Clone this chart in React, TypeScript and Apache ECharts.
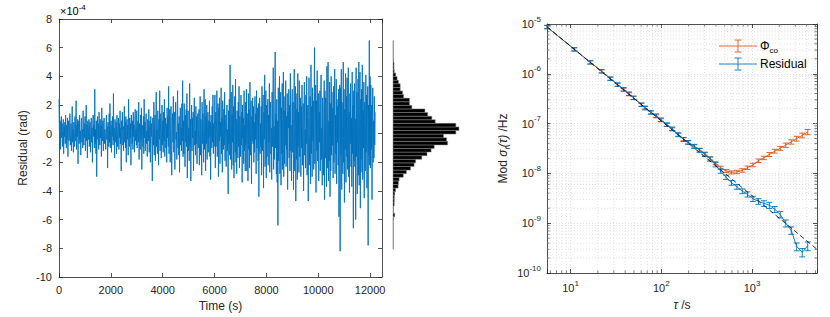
import React, { useEffect, useRef } from "react";
import * as echarts from "echarts";

// ---------- data ----------
const SAMPLE_STEP_S = 15; // seconds between residual samples
const residual = [
  2.4, 0.3, -0.6, 0.9, -1.1, 0.4, 1.2, -0.3, 0.7, -0.9, 0.1, 1.0, -1.4, 0.5, -0.2, 0.8, -0.7, 1.3, 0.2, -1.0, 0.6, -0.4, 1.1, -1.6, 0.3, 0.9, -0.5, 0.2, 1.4, -0.8, -0.1, 0.7, -1.2, 0.5, 1.9, -0.6, 0.3, -1.3, 0.8, 0.1,
  -0.9, 1.2, 0.4, -0.5, 2.3, -1.1, 0.6, -0.2, 1.0, -2.1, 0.5, 0.9, -0.7, 1.3, -0.4, 0.2, -1.5, 0.8, 1.1, -0.6, 0.3, -1.0, 1.6, 0.1, -0.8, 0.7, -0.3, 1.2, -1.2, 0.4, 2.0, -0.5, 0.6, -1.7, 0.9, 0.2, -0.4, 1.0, -0.9, 0.5,
  0.8, -1.3, 0.2, 1.1, -0.6, 0.4, -2.0, 0.9, 1.3, -0.2, 0.6, -1.0, 3.1, -0.7, 0.3, -1.4, 0.9, -3.0, 0.5, 1.2, -0.4, 0.7, -1.1, 1.5, 0.0, -0.8, 1.0, -0.3, 0.6, -1.6, 1.8, 0.2, -0.5, 0.9, -1.2, 0.4, 1.1, -0.7, 0.3, -0.1,
  -1.1, 0.7, 1.3, -0.4, 0.5, -2.4, 0.8, 0.2, -0.9, 1.4, -0.6, 2.1, -1.0, 0.3, 0.9, -1.3, 0.6, -0.2, 1.2, -0.8, 2.8, -0.5, 0.4, -1.7, 1.0, 0.1, -0.6, 0.8, -1.4, 1.3, 0.5, -0.9, 0.2, 1.1, -1.1, 0.7, -0.3, 1.6, -0.7, 0.4,
  -2.6, 0.9, 0.3, 1.5, -0.8, 0.5, -1.2, 0.2, 1.9, -0.6, 0.8, -1.0, 1.2, -2.0, 0.4, 1.0, -0.4, 0.6, -1.5, 2.4, 0.1, -0.9, 1.1, -0.3, 0.7, -2.2, 1.3, 0.4, -0.7, 0.9, -1.1, 1.5, -0.2, 0.6, -1.3, 0.8, 1.7, -0.5, 0.3, -0.8,
  1.6, -1.0, 0.5, 0.9, -0.6, 2.2, -1.8, 0.7, 0.2, -1.1, 1.3, -0.4, 1.8, -2.5, 0.6, 0.3, -0.9, 1.2, -1.4, 2.4, -0.3, 0.8, -1.2, 0.5, 1.4, -0.7, 0.2, -1.6, 1.0, 0.6, -0.5, 1.7, -1.3, 0.4, 0.9, -2.0, 1.2, -0.2, 0.7, -1.0,
  -3.3, 1.1, 0.4, -0.8, 2.2, -1.5, 0.7, 1.3, -1.9, 0.5, 2.9, -0.9, 0.3, -1.4, 1.6, 0.8, -2.2, 1.0, -0.4, 3.0, -1.2, 0.6, 1.4, -1.7, 0.2, 2.0, -0.8, 0.9, -1.3, 1.5, -0.5, 2.4, -1.6, 0.4, 1.1, -1.0, 0.7, -2.0, 1.8, -0.3,
  1.2, -0.9, 3.3, -1.4, 0.6, 1.7, -2.0, 0.3, 1.9, -1.1, -2.9, 0.8, 1.4, -0.6, 2.6, -1.3, 0.5, 1.5, -2.5, 0.9, 2.2, -0.4, 0.1, -1.8, 1.6, 3.0, -1.0, 0.7, -1.5, 1.2, -2.7, 0.6, 1.8, -0.8, 0.4, -1.2, 2.1, -0.5, 3.7, -1.6,
  0.9, -1.4, 2.1, 0.3, -2.3, 1.3, -0.6, 1.7, -0.9, 2.8, -3.1, 0.7, 1.6, -1.2, 0.4, -1.9, 3.5, -0.8, 1.0, -3.3, 0.5, 2.0, -1.2, 1.1, -0.3, 1.5, -2.6, 0.8, 2.5, -0.8, 0.2, -1.5, 1.9, -0.7, 1.2, -2.1, 0.6, 1.4, -1.0, 0.3,
  1.7, -2.2, 0.6, 2.6, -1.5, 1.0, -0.4, -2.9, 2.2, -0.7, 1.4, 0.3, -2.0, 3.1, -1.1, 0.6, 2.4, -2.6, 1.2, -0.7, 2.0, -1.8, 0.5, 1.5, -1.3, 0.9, -0.2, 2.3, -1.6, 0.8, -3.2, 1.3, 0.4, -1.0, 1.9, -0.6, 2.7, -1.4, 0.7, -0.9,
  0.9, 2.7, -2.4, 1.5, -0.9, 0.4, 3.0, -1.6, 0.4, 2.1, -3.0, 1.8, -0.5, 2.5, -2.1, 0.8, -0.2, 3.2, -1.4, 1.1, -2.7, 2.3, 0.6, -1.1, 1.7, -0.8, 2.9, -1.9, 0.5, 1.3, -2.3, 0.9, 2.0, -1.2, 0.3, -4.2, 1.6, -0.7, 2.4, -1.5,
  4.8, -1.8, 0.7, 2.9, -2.5, 1.3, -0.6, 3.4, -2.2, 1.9, -3.1, 0.5, 2.6, -1.3, 3.8, -2.0, 1.0, -2.8, 1.6, 0.2, -1.7, 2.2, -0.9, 3.3, -2.4, 1.2, 0.4, -1.6, 2.7, -0.8, 1.5, -3.4, 2.0, -0.3, 1.1, -2.1, 3.0, -1.2, 0.6, -2.6,
  2.2, -0.8, 3.1, -2.6, 1.4, 0.2, -3.3, 2.8, -1.1, 1.7, -2.4, 3.6, -1.5, 0.9, 2.3, -3.5, 1.2, -0.5, 2.5, -0.7, 1.9, -2.0, 0.8, -1.3, 2.6, -0.4, 1.4, -2.8, 3.0, -1.0, 0.6, 1.8, -1.9, 2.1, -4.4, 1.0, 2.5, -1.4, 0.7, -0.9,
  1.9, -2.9, 3.3, -1.2, 0.6, 2.7, -3.8, 1.5, -0.4, 4.1, -2.3, 1.1, 3.0, -3.1, 2.0, -1.6, 0.8, 2.4, -2.2, 1.3, -0.6, 3.5, -2.7, 1.0, 2.2, -1.4, 0.4, -3.2, 2.9, -0.9, 1.7, 4.6, -2.5, 0.5, -1.8, 2.3, 5.7, -1.0, 1.4, -2.8,
  2.4, -3.4, 0.9, -6.4, 3.2, -1.9, 1.3, 4.0, -2.8, 0.7, 2.9, -3.6, 1.8, -1.4, 3.5, -2.5, 0.9, 4.3, -3.0, 1.6, -2.1, 2.6, -0.8, 3.7, -2.3, 1.2, -1.1, 2.8, -3.9, 1.5, 0.4, 3.1, -1.7, 2.0, -2.6, 4.2, -1.2, 0.6, -3.3, 2.2,
  3.1, -1.3, 2.2, -3.9, 1.0, 4.5, -2.6, 0.4, 3.3, -4.7, 1.7, -1.8, 2.8, -3.2, 4.2, -0.9, 1.5, -2.7, 3.7, -1.6, 0.8, 2.5, -3.0, 1.9, -1.0, 3.4, -2.2, 0.6, 2.1, -4.0, 1.4, 3.6, -1.5, 0.3, -2.4, 2.7, -0.7, 4.0, -2.9, 1.2,
  2.0, -4.7, 1.2, 3.9, -2.2, 0.8, 2.6, -3.5, 4.8, -1.4, 1.9, -3.0, 3.2, -0.5, 2.3, -2.5, 1.1, 6.0, -2.1, 0.6, 3.4, -4.1, 2.3, -1.2, 4.4, -1.9, 0.9, 2.8, -3.3, 1.5, -0.6, 3.0, -2.6, 1.7, 4.1, -1.8, 0.4, -3.6, 2.5, -1.1,
  -2.9, 1.4, 3.7, -4.6, 3.0, -1.7, 2.5, 0.3, -3.7, 4.7, -2.4, 1.6, 5.0, -3.3, 0.9, -1.9, 3.6, -4.4, 2.1, -2.6, 4.0, -1.5, 2.9, -0.8, 1.8, -3.1, 3.3, -2.0, 0.7, 4.5, -2.8, 1.3, -1.4, 3.8, -3.5, 2.4, -0.6, 1.9, -2.2, 3.1,
  -5.8, 1.3, 3.4, -8.2, 3.2, -1.5, 4.5, -3.9, 2.2, 0.5, -2.8, 5.0, -2.0, 3.1, -4.8, 1.7, -1.1, 4.2, -3.4, 2.6, -1.6, 3.9, -2.5, 0.9, 4.6, -3.0, 1.5, -4.1, 2.8, -0.7, 3.5, -2.3, 1.1, -3.7, 4.3, -1.4, 2.0, -6.6, 3.0, -1.9,
  3.5, -2.3, 1.0, -6.0, 4.6, -1.6, 2.9, -4.2, 1.4, 3.8, -2.9, 5.0, -3.6, 0.8, 4.3, -5.2, 2.4, -1.8, 3.1, -2.7, 4.8, -3.2, 1.6, -1.0, 3.6, -4.5, 2.2, 0.3, -2.6, 4.1, -1.3, 2.7, -3.8, 1.2, 3.3, -7.8, 2.0, -1.5, 6.5, -2.2,
  4.0, -2.4, 3.4, -1.1, 2.0, -4.6, 1.2, 3.2, -2.0, 0.9, -1.7, 2.6, -0.8, 1.5,
];

// histogram of the residual (bins of 0.25e-4 rad from -8e-4)
const HIST_START = -8;
const HIST_BIN = 0.25;
const histCounts = [
  0.3, 0.3, 0.3, 0.3, 0.3, 0.3, 0.3, 0.3, 0.5, 1.7, 0.5, 0.5, 1.2, 1.3, 1.3, 1.7, 2.5, 5, 5.3, 6,
  10, 13, 17, 20.5, 22, 28, 33, 37, 40, 53, 52, 49, 61, 64, 61, 41, 37.7, 33.7, 31, 18.3,
  16, 16, 10.3, 9.3, 7, 7, 5.3, 4, 2.7, 1.2, 1, 1, 0.5, 0.3, 0.3, 0.3, 0.3, 0.3,
];

// modified Allan deviation
const tau = [
  5.5, 11, 16.5, 22, 27.5, 33, 38.5, 44, 49.5, 60.5, 66, 77, 88, 99, 115, 132, 154, 176, 198, 231,
  264, 302, 346, 396, 451, 517, 594, 682, 781, 891, 1023, 1177, 1353, 1551, 1782, 2046, 2354, 2706, 3108, 3575, 4108,
];
const residualDev = [
  8.7e-6, 3.1e-6, 1.7e-6, 1.13e-6, 8.0e-7, 6.1e-7, 4.9e-7, 4.0e-7, 3.3e-7, 2.4e-7, 2.05e-7, 1.68e-7, 1.45e-7, 1.2e-7,
  9.6e-8, 7.9e-8, 6.0e-8, 4.8e-8, 4.2e-8, 3.5e-8, 2.9e-8, 2.4e-8, 1.95e-8, 1.5e-8, 1.12e-8, 8.4e-9, 6.5e-9, 5.4e-9,
  4.4e-9, 3.8e-9, 3.1e-9, 2.75e-9, 2.5e-9, 2.3e-9, 1.9e-9, 1.5e-9, 1.0e-9, 7.2e-10, 3.4e-10, 2.6e-10, 3.5e-10,
];
const residualErrPct = [
  8, 8, 8, 8, 8, 8, 8, 8, 8, 8, 8, 8, 8, 8, 8, 8, 9, 9, 9, 9,
  9, 9, 10, 10, 10, 10, 11, 11, 11, 12, 12, 13, 13, 14, 14, 15, 16, 17, 18, 19, 20,
];
const phiDev = [
  8.7e-6, 3.1e-6, 1.7e-6, 1.12e-6, 8.0e-7, 6.0e-7, 4.8e-7, 3.9e-7, 3.3e-7, 2.4e-7, 2.1e-7, 1.68e-7, 1.4e-7, 1.17e-7,
  9.4e-8, 7.7e-8, 6.0e-8, 4.9e-8, 4.2e-8, 3.5e-8, 3.0e-8, 2.5e-8, 2.0e-8, 1.6e-8, 1.3e-8, 1.12e-8, 1.05e-8, 1.07e-8,
  1.15e-8, 1.3e-8, 1.48e-8, 1.8e-8, 2.05e-8, 2.4e-8, 2.8e-8, 3.2e-8, 3.7e-8, 4.3e-8, 5.0e-8, 5.8e-8, 6.8e-8,
];
const phiErrPct = [
  7, 7, 7, 7, 7, 7, 7, 7, 7, 7, 7, 7, 7, 7, 7, 7, 7, 7, 7, 7,
  7, 7, 7, 7, 7, 7, 7, 8, 8, 8, 8, 8, 8, 9, 9, 9, 10, 10, 11, 11, 12,
];
const fitLine = [
  [5.5, 8.8e-6],
  [5200, 3.0e-10],
];

const leftXTicks = [0, 2000, 4000, 6000, 8000, 10000, 12000];
const xMinorTicks = [6, 7, 8, 9, 20, 30, 40, 50, 60, 70, 80, 90, 200, 300, 400, 500, 600, 700, 800, 900, 2000, 3000, 4000, 5000];
const yMinorTicks = [1e-10, 1e-9, 1e-8, 1e-7, 1e-6].flatMap((d) => [2, 3, 4, 5, 6, 7, 8, 9].map((k) => k * d));

// ---------- styles ----------
const BLUE = "#0072BD";
const RED = "#D95319";
const AXIS = "#262626";
const GRIDC = "#cfcfcf";
const FONT = "'Liberation Sans', Arial, Helvetica, sans-serif";

const supRich = {
  b: { fontSize: 11, lineHeight: 18, color: AXIS, fontFamily: FONT },
  s: { fontSize: 8, lineHeight: 9, verticalAlign: "top", color: AXIS, fontFamily: FONT },
};

const logLabel = (v: number) => {
  const e = Math.log10(v);
  if (Math.abs(e - Math.round(e)) > 1e-6) return "";
  return `{b|10}{s|${Math.round(e)}}`;
};

function errorBarRender(color: string) {
  return (params: any, api: any) => {
    const x = api.value(0);
    const lo = api.coord([x, api.value(1)]);
    const hi = api.coord([x, api.value(2)]);
    const w = 3;
    const st = { stroke: color, lineWidth: 0.9, fill: "none" };
    return {
      type: "group",
      children: [
        { type: "line", shape: { x1: lo[0], y1: lo[1], x2: hi[0], y2: hi[1] }, style: st },
        { type: "line", shape: { x1: lo[0] - w, y1: lo[1], x2: lo[0] + w, y2: lo[1] }, style: st },
        { type: "line", shape: { x1: hi[0] - w, y1: hi[1], x2: hi[0] + w, y2: hi[1] }, style: st },
      ],
    };
  };
}

export default function App() {
  const ref = useRef<HTMLDivElement>(null);

  useEffect(() => {
    if (!ref.current) return;
    const chart = echarts.init(ref.current, undefined, { renderer: "svg" });

    const tsData = residual.map((v, i) => [i * SAMPLE_STEP_S, v]);
    const histData = histCounts.map((c, i) => [c, HIST_START + HIST_BIN * (i + 0.5)]);
    const resLine = tau.map((t, i) => [t, residualDev[i]]);
    const phiLine = tau.map((t, i) => [t, phiDev[i]]);
    const resErr = tau.map((t, i) => [t, residualDev[i] * (1 - residualErrPct[i] / 100), residualDev[i] * (1 + residualErrPct[i] / 100)]);
    const phiErr = tau.map((t, i) => [t, phiDev[i] * (1 - phiErrPct[i] / 100), phiDev[i] * (1 + phiErrPct[i] / 100)]);

    const boxAxis = { show: true, onZero: false, lineStyle: { color: AXIS, width: 0.8 } };
    const inTick = { show: true, inside: true, length: 4, lineStyle: { color: AXIS, width: 0.8 } };
    const lbl = { color: AXIS, fontSize: 11, fontFamily: FONT };

    const legendItems = [
      { y: 46, color: RED, text: "{a|Φ}{sub|co}" },
      { y: 64, color: BLUE, text: "{a|Residual}" },
    ];
    const legendGraphics: any[] = [];
    legendItems.forEach((it) => {
      const st = { stroke: it.color, lineWidth: 0.9 };
      legendGraphics.push(
        { type: "line", shape: { x1: 719, y1: it.y, x2: 757, y2: it.y }, style: st },
        { type: "line", shape: { x1: 738, y1: it.y - 6, x2: 738, y2: it.y + 6 }, style: st },
        { type: "line", shape: { x1: 734.5, y1: it.y - 6, x2: 741.5, y2: it.y - 6 }, style: st },
        { type: "line", shape: { x1: 734.5, y1: it.y + 6, x2: 741.5, y2: it.y + 6 }, style: st },
        {
          type: "text",
          x: 760,
          y: it.y,
          style: {
            text: it.text,
            verticalAlign: "middle",
            rich: {
              a: { fontSize: 12, lineHeight: 16, color: AXIS, fontFamily: FONT },
              sub: { fontSize: 8, lineHeight: 8, verticalAlign: "bottom", color: AXIS, fontFamily: FONT },
            },
          },
        }
      );
    });

    const option: any = {
      animation: false,
      textStyle: { fontFamily: FONT },
      grid: [
        { left: 59, top: 19, width: 323, height: 259 },
        { left: 393, top: 19, width: 68, height: 259 },
        { left: 547, top: 24, width: 270, height: 249 },
      ],
      xAxis: [
        {
          type: "value", gridIndex: 0, min: 0, max: 12460, interval: 2000,
          axisLine: boxAxis, axisTick: inTick, splitLine: { show: false },
          axisLabel: { ...lbl, margin: 7, showMaxLabel: false, formatter: (v: number) => (leftXTicks.includes(v) ? String(v) : "") },
          name: "Time (s)", nameLocation: "middle", nameGap: 23,
          nameTextStyle: { color: AXIS, fontSize: 12, fontFamily: FONT },
        },
        {
          type: "value", gridIndex: 0, position: "top", min: 0, max: 12460, interval: 2000,
          axisLine: boxAxis, axisTick: inTick, axisLabel: { show: false }, splitLine: { show: false },
        },
        { type: "value", gridIndex: 1, min: 0, max: 66, show: false },
        {
          type: "log", gridIndex: 2, min: 5.5, max: 5200, logBase: 10,
          axisLine: boxAxis, axisTick: inTick,
          splitLine: { show: true, lineStyle: { color: GRIDC, width: 0.6, type: [1, 2] } },
          axisLabel: { margin: 6, formatter: logLabel, rich: supRich },
          name: "{i|τ} /s", nameLocation: "middle", nameGap: 26,
          nameTextStyle: {
            color: AXIS, fontSize: 12, fontFamily: FONT,
            rich: { i: { fontStyle: "italic", fontSize: 12, color: AXIS, fontFamily: FONT } },
          },
        },
        {
          type: "log", gridIndex: 2, position: "top", min: 5.5, max: 5200, logBase: 10,
          axisLine: boxAxis, axisTick: inTick, axisLabel: { show: false }, splitLine: { show: false },
        },
      ],
      yAxis: [
        {
          type: "value", gridIndex: 0, min: -10, max: 8, interval: 2,
          axisLine: boxAxis, axisTick: inTick, splitLine: { show: false },
          axisLabel: { ...lbl, margin: 7 },
          name: "Residual (rad)", nameLocation: "middle", nameGap: 30,
          nameTextStyle: { color: AXIS, fontSize: 12, fontFamily: FONT },
        },
        {
          type: "value", gridIndex: 0, position: "right", min: -10, max: 8, interval: 2,
          axisLine: boxAxis, axisTick: inTick, axisLabel: { show: false }, splitLine: { show: false },
        },
        { type: "value", gridIndex: 1, min: -10, max: 8, show: false },
        {
          type: "log", gridIndex: 2, min: 1e-10, max: 1e-5, logBase: 10,
          axisLine: boxAxis, axisTick: inTick,
          splitLine: { show: true, lineStyle: { color: GRIDC, width: 0.6, type: [1, 2] } },
          axisLabel: { margin: 6, formatter: logLabel, rich: supRich },
          name: "Mod {i|σ}{sub|f}{i|(τ)} /Hz", nameLocation: "middle", nameGap: 36,
          nameTextStyle: {
            color: AXIS, fontSize: 12, fontFamily: FONT,
            rich: {
              i: { fontStyle: "italic", fontSize: 12, lineHeight: 16, color: AXIS, fontFamily: FONT },
              sub: { fontStyle: "italic", fontSize: 8, lineHeight: 8, verticalAlign: "bottom", color: AXIS, fontFamily: FONT },
            },
          },
        },
        {
          type: "log", gridIndex: 2, position: "right", min: 1e-10, max: 1e-5, logBase: 10,
          axisLine: boxAxis, axisTick: inTick, axisLabel: { show: false }, splitLine: { show: false },
        },
      ],
      graphic: [
        {
          type: "text", x: 60, y: 11,
          style: {
            text: "{a|×10}{s|-4}",
            verticalAlign: "middle",
            rich: {
              a: { fontSize: 11, lineHeight: 16, color: AXIS, fontFamily: FONT },
              s: { fontSize: 8, lineHeight: 9, verticalAlign: "top", color: AXIS, fontFamily: FONT },
            },
          },
        },
        ...legendGraphics,
      ],
      series: [
        {
          type: "line", xAxisIndex: 0, yAxisIndex: 0, data: tsData, showSymbol: false, symbol: "none",
          lineStyle: { color: BLUE, width: 0.9 }, clip: true, z: 2,
        },
        {
          type: "custom", xAxisIndex: 2, yAxisIndex: 2, data: histData, encode: { x: 0, y: 1 }, silent: true,
          renderItem: (params: any, api: any) => {
            const n = api.value(0);
            const c = api.value(1);
            const p0 = api.coord([0, c + HIST_BIN / 2]);
            const p1 = api.coord([n, c - HIST_BIN / 2]);
            return {
              type: "rect",
              shape: { x: p0[0], y: p0[1], width: p1[0] - p0[0], height: p1[1] - p0[1] },
              style: { fill: "#000", stroke: "#8a8a8a", lineWidth: 0.5 },
            };
          },
        },
        // minor grid + minor ticks (x)
        {
          type: "custom", xAxisIndex: 3, yAxisIndex: 3, data: xMinorTicks.map((v) => [v, 1e-7]), silent: true, z: 1,
          renderItem: (params: any, api: any) => {
            const cs = params.coordSys;
            const x = api.coord([api.value(0), 1e-7])[0];
            const t = { stroke: AXIS, lineWidth: 0.6 };
            return {
              type: "group",
              children: [
                { type: "line", shape: { x1: x, y1: cs.y, x2: x, y2: cs.y + cs.height }, style: { stroke: GRIDC, lineWidth: 0.6, lineDash: [1, 2] } },
                { type: "line", shape: { x1: x, y1: cs.y + cs.height, x2: x, y2: cs.y + cs.height - 2.5 }, style: t },
                { type: "line", shape: { x1: x, y1: cs.y, x2: x, y2: cs.y + 2.5 }, style: t },
              ],
            };
          },
        },
        // minor grid + minor ticks (y)
        {
          type: "custom", xAxisIndex: 3, yAxisIndex: 3, data: yMinorTicks.map((v) => [100, v]), silent: true, z: 1,
          renderItem: (params: any, api: any) => {
            const cs = params.coordSys;
            const y = api.coord([100, api.value(1)])[1];
            const t = { stroke: AXIS, lineWidth: 0.6 };
            return {
              type: "group",
              children: [
                { type: "line", shape: { x1: cs.x, y1: y, x2: cs.x + cs.width, y2: y }, style: { stroke: GRIDC, lineWidth: 0.6, lineDash: [1, 2] } },
                { type: "line", shape: { x1: cs.x, y1: y, x2: cs.x + 2.5, y2: y }, style: t },
                { type: "line", shape: { x1: cs.x + cs.width, y1: y, x2: cs.x + cs.width - 2.5, y2: y }, style: t },
              ],
            };
          },
        },
        {
          name: "Φco", type: "line", xAxisIndex: 3, yAxisIndex: 3, data: phiLine, symbol: "none",
          lineStyle: { color: RED, width: 0.9 }, z: 3,
        },
        {
          type: "custom", xAxisIndex: 3, yAxisIndex: 3, data: phiErr, encode: { x: 0, y: [1, 2] }, silent: true, z: 3,
          renderItem: errorBarRender(RED),
        },
        {
          name: "Residual", type: "line", xAxisIndex: 3, yAxisIndex: 3, data: resLine, symbol: "none",
          lineStyle: { color: BLUE, width: 0.9 }, z: 4,
        },
        {
          type: "custom", xAxisIndex: 3, yAxisIndex: 3, data: resErr, encode: { x: 0, y: [1, 2] }, silent: true, z: 4,
          renderItem: errorBarRender(BLUE),
        },
        {
          type: "line", xAxisIndex: 3, yAxisIndex: 3, data: fitLine, symbol: "none",
          lineStyle: { color: "#000", width: 0.8, type: [5, 3] }, z: 5,
        },
      ],
    };

    chart.setOption(option);
    return () => chart.dispose();
  }, []);

  return <div ref={ref} style={{ position: "absolute", left: 0, top: 0, width: 830, height: 317 }} />;
}
